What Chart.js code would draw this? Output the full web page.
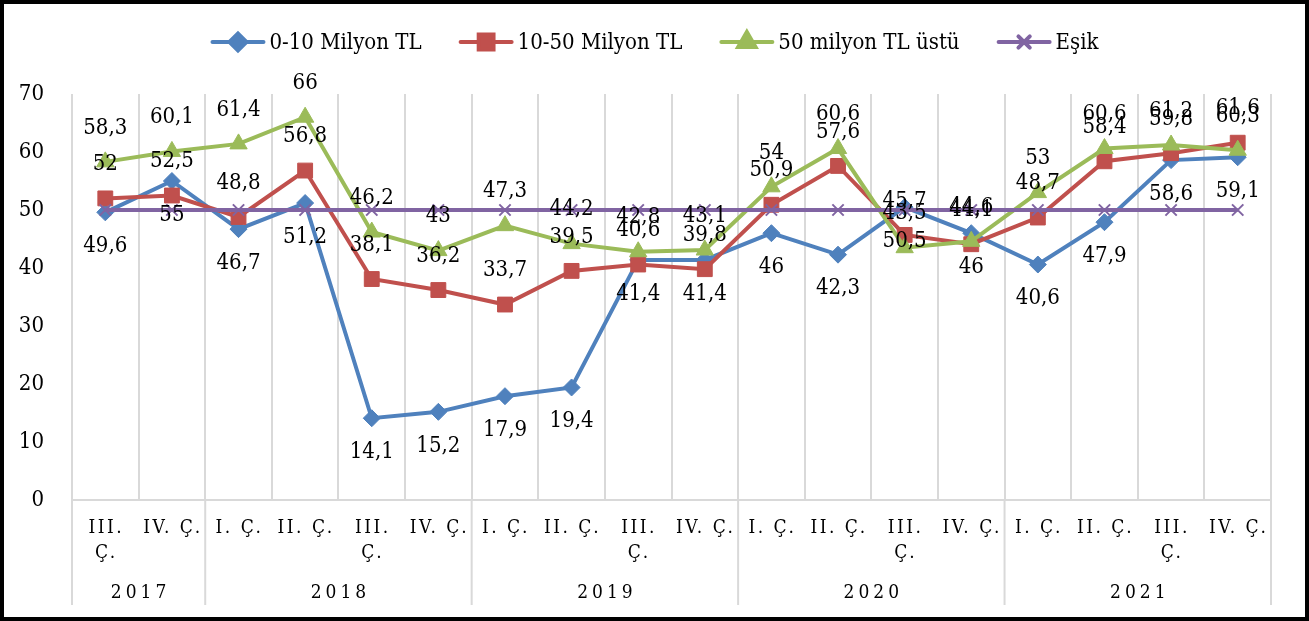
<!DOCTYPE html>
<html>
<head>
<meta charset="utf-8">
<script src="https://cdn.jsdelivr.net/npm/chart.js@4.4.0/dist/chart.umd.min.js"></script>
<style>
  html, body { margin: 0; padding: 0; background: #fff; }
  #frame { width: 1309px; height: 621px; box-sizing: border-box; border: 4px solid #000; background: #fff; }
  #frame canvas { display: block; }
</style>
</head>
<body>
<div id="frame"><canvas id="chart" width="1301" height="613"></canvas></div>
<script>
const quarters = [
  ["III.", "Ç."], "IV. Ç.",
  "I. Ç.", "II. Ç.", ["III.", "Ç."], "IV. Ç.",
  "I. Ç.", "II. Ç.", ["III.", "Ç."], "IV. Ç.",
  "I. Ç.", "II. Ç.", ["III.", "Ç."], "IV. Ç.",
  "I. Ç.", "II. Ç.", ["III.", "Ç."], "IV. Ç.",
];
const years = [
  "2017", "2017",
  "2018", "2018", "2018", "2018",
  "2019", "2019", "2019", "2019",
  "2020", "2020", "2020", "2020",
  "2021", "2021", "2021", "2021",
];
const small = [49.6, 55, 46.7, 51.2, 14.1, 15.2, 17.9, 19.4, 41.4, 41.4, 46, 42.3, 50.5, 46, 40.6, 47.9, 58.6, 59.1];
const medium = [52, 52.5, 48.8, 56.8, 38.1, 36.2, 33.7, 39.5, 40.6, 39.8, 50.9, 57.6, 45.7, 44.1, 48.7, 58.4, 59.8, 61.6];
const large = [58.3, 60.1, 61.4, 66, 46.2, 43, 47.3, 44.2, 42.8, 43.1, 54, 60.6, 43.5, 44.6, 53, 60.6, 61.2, 60.3];
const esik = [50, 50, 50, 50, 50, 50, 50, 50, 50, 50, 50, 50, 50, 50, 50, 50, 50, 50];
const yMin = 0, yMax = 70, yStep = 10;

const FONT = "'DejaVu Serif Condensed', 'Liberation Serif', serif";
const GRID = "#d9d9d9";

// numbers next to the points, comma as decimal sign
const pointLabels = {
  id: "pointLabels",
  afterDatasetsDraw(chart) {
    const { ctx } = chart;
    ctx.save();
    ctx.font = `22px ${FONT}`;
    ctx.fillStyle = "#000";
    ctx.textAlign = "center";
    ctx.textBaseline = "middle";
    chart.data.datasets.forEach((ds, i) => {
      if (!ds.labelSide) return;
      const dy = ds.labelSide === "below" ? 34 : -34;
      chart.getDatasetMeta(i).data.forEach((pt, j) => {
        ctx.fillText(String(ds.data[j]).replace(".", ","), pt.x, pt.y + dy);
      });
    });
    ctx.restore();
  },
};

// two-row category axis: quarters, then years with separators
const groupAxis = {
  id: "groupAxis",
  afterDraw(chart) {
    const { ctx, chartArea } = chart;
    const x = chart.scales.x;
    const half = (x.getPixelForValue(1) - x.getPixelForValue(0)) / 2;
    const bottom = chart.height - 12;
    ctx.save();
    ctx.strokeStyle = GRID;
    ctx.lineWidth = 2;
    ctx.beginPath();
    years.forEach((yr, i) => {
      if (i === 0 || yr !== years[i - 1]) {
        const px = x.getPixelForValue(i) - half;
        ctx.moveTo(px, chartArea.bottom);
        ctx.lineTo(px, bottom);
      }
    });
    const last = x.getPixelForValue(years.length - 1) + half;
    ctx.moveTo(last, chartArea.bottom);
    ctx.lineTo(last, bottom);
    ctx.stroke();

    ctx.fillStyle = "#000";
    ctx.textAlign = "center";
    ctx.textBaseline = "middle";
    ctx.font = `19px ${FONT}`;
    ctx.letterSpacing = "2.5px";
    quarters.forEach((q, i) => {
      const lines = Array.isArray(q) ? q : [q];
      lines.forEach((t, k) => {
        ctx.fillText(t, x.getPixelForValue(i) + 1, chartArea.bottom + 28 + k * 25);
      });
    });
    ctx.letterSpacing = "4px";
    let start = 0;
    years.forEach((yr, i) => {
      if (i === years.length - 1 || years[i + 1] !== yr) {
        const cx = (x.getPixelForValue(start) + x.getPixelForValue(i)) / 2;
        ctx.fillText(yr, cx + 2, chartArea.bottom + 93);
        start = i + 1;
      }
    });
    ctx.restore();
  },
};

// legend with line + marker icons
const lineLegend = {
  id: "lineLegend",
  afterDraw(chart) {
    const { ctx } = chart;
    const iconW = 55, gap = 4, spacing = 37, cy = 38;
    ctx.save();
    ctx.font = `22px ${FONT}`;
    const items = chart.data.datasets.map((ds) => ({ ds, w: ctx.measureText(ds.label).width }));
    const total = items.reduce((s, it) => s + iconW + gap + it.w, 0) + spacing * (items.length - 1);
    let cx = (chart.width - total) / 2;
    items.forEach(({ ds, w }) => {
      ctx.strokeStyle = ds.borderColor;
      ctx.lineWidth = ds.borderWidth;
      ctx.lineCap = "round";
      ctx.beginPath();
      ctx.moveTo(cx + 2, cy);
      ctx.lineTo(cx + iconW - 2, cy);
      ctx.stroke();
      ctx.fillStyle = ds.pointBackgroundColor;
      ctx.strokeStyle = ds.pointBorderColor;
      Chart.helpers.drawPoint(ctx, {
        pointStyle: ds.pointStyle,
        radius: ds.pointRadius,
        borderWidth: ds.pointBorderWidth,
        rotation: 0,
      }, cx + iconW / 2, cy);
      ctx.fillStyle = "#000";
      ctx.textAlign = "left";
      ctx.textBaseline = "middle";
      ctx.fillText(ds.label, cx + iconW + gap, cy + 1);
      cx += iconW + gap + w + spacing;
    });
    ctx.restore();
  },
};

function series(label, data, color, style, radius, order, labelSide) {
  return {
    label, data, order, labelSide,
    borderColor: color,
    borderWidth: 4,
    pointStyle: style,
    pointRadius: radius,
    pointHoverRadius: radius,
    pointBackgroundColor: color,
    pointBorderColor: color,
    pointBorderWidth: style === "crossRot" ? 2 : 1,
    tension: 0,
    fill: false,
  };
}

new Chart(document.getElementById("chart"), {
  type: "line",
  data: {
    labels: quarters,
    datasets: [
      series("0-10 Milyon TL", small, "#4F81BD", "rectRot", 8.5, 4, "below"),
      series("10-50 Milyon TL", medium, "#C0504D", "rect", 10.5, 3, "above"),
      series("50 milyon TL üstü", large, "#9BBB59", "triangle", 10, 2, "above"),
      series("Eşik", esik, "#8064A2", "crossRot", 8, 1, null),
    ],
  },
  options: {
    responsive: false,
    animation: false,
    layout: { padding: { top: 90, right: 34, left: 0, bottom: 0 } },
    plugins: { legend: { display: false }, tooltip: { enabled: false } },
    scales: {
      x: {
        offset: true,
        grid: { offset: true, color: GRID, lineWidth: 2, drawTicks: false },
        border: { display: true, color: GRID, width: 2 },
        ticks: { display: false },
        afterFit: (s) => { s.height = 117; },
      },
      y: {
        min: yMin,
        max: yMax,
        ticks: { stepSize: yStep, padding: 20, color: "#000", font: { family: FONT, size: 22 } },
        grid: { display: false },
        border: { display: false },
        afterFit: (s) => { s.width = 68; },
      },
    },
  },
  plugins: [pointLabels, groupAxis, lineLegend],
});
</script>
</body>
</html>
